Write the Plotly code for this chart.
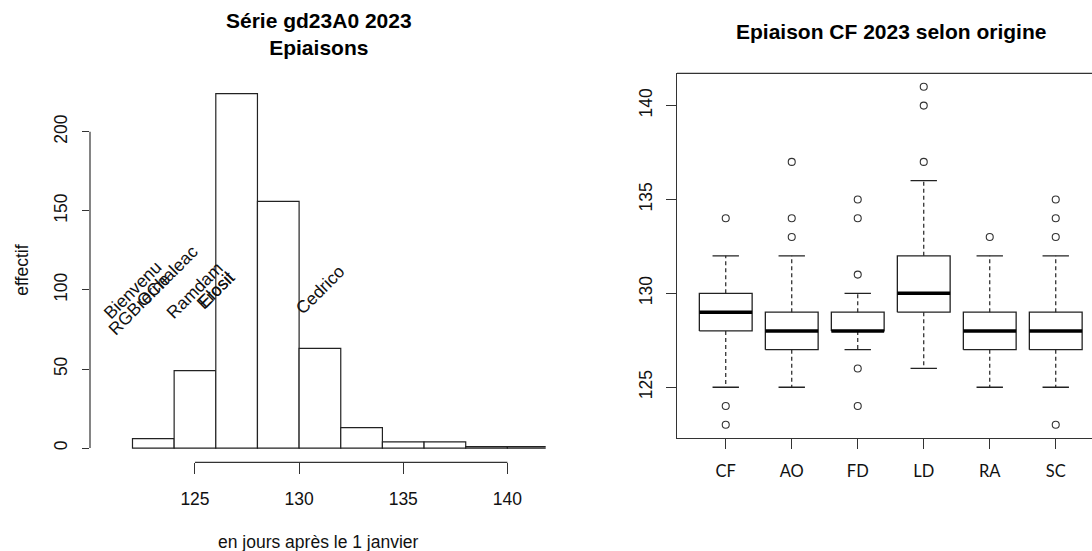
import plotly.graph_objects as go

W, H = 1092, 551

# ---------------- data: histogram (left) ----------------
bin_edges = [122, 124, 126, 128, 130, 132, 134, 136, 138, 140, 142]
counts = [6, 49, 224, 156, 63, 13, 4, 4, 1, 1]
hist_xticks = [125, 130, 135, 140]
hist_yticks = [0, 50, 100, 150, 200]

label_names = ["Bienvenu", "RGBreChaleac", "Orne", "Ramdam", "Elosil", "Erosit", "Cedrico"]
label_x = [122, 123, 123, 125, 126, 126, 131]
label_y = [100, 100, 100, 100, 100, 100, 100]

# ---------------- data: boxplot (right) ----------------
groups = ["CF", "AO", "FD", "LD", "RA", "SC"]
q1 = [128, 127, 128, 129, 127, 127]
medians = [129, 128, 128, 130, 128, 128]
q3 = [130, 129, 129, 132, 129, 129]
whisk_lo = [125, 125, 127, 126, 125, 125]
whisk_hi = [132, 132, 130, 136, 132, 132]
outliers = [[134, 124, 123], [137, 134, 133], [135, 134, 131, 126, 124],
            [141, 140, 137], [133], [135, 134, 133, 123]]
box_yticks = [125, 130, 135, 140]

FONT = "Liberation Sans, Arial, sans-serif"
LINE = "#222222"


def px_x(p):
    return p / W


def px_y(p):
    return 1 - p / H


fig = go.Figure()

# histogram bars
centers = [(a + b) / 2 for a, b in zip(bin_edges[:-1], bin_edges[1:])]
widths = [b - a for a, b in zip(bin_edges[:-1], bin_edges[1:])]
fig.add_trace(go.Bar(
    x=centers, y=counts, width=widths,
    marker=dict(color="white", line=dict(color=LINE, width=1.2)),
    xaxis="x", yaxis="y", showlegend=False, hoverinfo="skip"))

# boxplot built from the statistics
pos = list(range(1, len(groups) + 1))
bw = 0.4   # half box width
cw = 0.2   # half cap width

bx, by = [], []
for p, a, b in zip(pos, q1, q3):
    bx += [p - bw, p + bw, p + bw, p - bw, p - bw, None]
    by += [a, a, b, b, a, None]
fig.add_trace(go.Scatter(x=bx, y=by, mode="lines", line=dict(color=LINE, width=1.3),
                         xaxis="x2", yaxis="y2", showlegend=False, hoverinfo="skip"))

wx, wy = [], []
for p, a, b, lo, hi in zip(pos, q1, q3, whisk_lo, whisk_hi):
    wx += [p, p, None, p, p, None]
    wy += [b, hi, None, a, lo, None]
fig.add_trace(go.Scatter(x=wx, y=wy, mode="lines", line=dict(color=LINE, width=1.2, dash="4px,3px"),
                         xaxis="x2", yaxis="y2", showlegend=False, hoverinfo="skip"))

cx, cy = [], []
for p, lo, hi in zip(pos, whisk_lo, whisk_hi):
    cx += [p - cw, p + cw, None, p - cw, p + cw, None]
    cy += [hi, hi, None, lo, lo, None]
fig.add_trace(go.Scatter(x=cx, y=cy, mode="lines", line=dict(color=LINE, width=1.3),
                         xaxis="x2", yaxis="y2", showlegend=False, hoverinfo="skip"))

mx, my = [], []
for p, m in zip(pos, medians):
    mx += [p - bw, p + bw, None]
    my += [m, m, None]
fig.add_trace(go.Scatter(x=mx, y=my, mode="lines", line=dict(color="black", width=3.5),
                         xaxis="x2", yaxis="y2", showlegend=False, hoverinfo="skip"))

ox, oy = [], []
for p, outs in zip(pos, outliers):
    for v in outs:
        ox.append(p)
        oy.append(v)
fig.add_trace(go.Scatter(x=ox, y=oy, mode="markers",
                         marker=dict(symbol="circle-open", size=7, color="#333333", line=dict(width=1.1)),
                         xaxis="x2", yaxis="y2", showlegend=False, hoverinfo="skip"))

tickfont = dict(family=FONT, size=17.5, color="#111111")

fig.update_layout(
    width=W, height=H,
    margin=dict(l=0, r=0, t=0, b=0),
    paper_bgcolor="white", plot_bgcolor="rgba(0,0,0,0)",
    showlegend=False,
    xaxis=dict(domain=[px_x(90), px_x(545.7)], range=[119.96, 141.84], anchor="y",
               tickvals=hist_xticks, ticks="outside", ticklen=11, tickcolor="#333333",
               tickwidth=1, showline=False, showgrid=False, zeroline=False,
               tickfont=tickfont, ticklabelstandoff=10),
    yaxis=dict(domain=[px_y(462.3), px_y(79.5)], range=[-8.96, 232.96], anchor="x",
               tickvals=hist_yticks, ticks="outside", ticklen=7, tickcolor="#333333",
               tickwidth=1, showline=False, showgrid=False, zeroline=False,
               tickangle=-90, tickfont=tickfont, ticklabelstandoff=8),
    xaxis2=dict(domain=[px_x(676.9), 1.0], range=[0.26, 0.26 + (W - 676.9) / 66.0], anchor="y2",
                tickvals=pos, ticktext=groups, ticks="outside", ticklen=10, tickcolor="#333333",
                tickwidth=1, showline=True, linecolor="#333333", linewidth=1.2,
                showgrid=False, zeroline=False,
                tickfont=dict(family="Lato, Carlito, sans-serif", size=16.5, color="#111111"),
                ticklabelstandoff=8),
    yaxis2=dict(domain=[px_y(438.3), px_y(73.3)], range=[122.28, 141.72], anchor="x2",
                tickvals=box_yticks, ticks="outside", ticklen=10, tickcolor="#333333",
                tickwidth=1, showline=True, linecolor="#333333", linewidth=1.2,
                showgrid=False, zeroline=False,
                tickangle=-90, tickfont=tickfont, ticklabelstandoff=7),
)

shapes = [
    dict(type="line", xref="x", yref="y domain", x0=hist_xticks[0], x1=hist_xticks[-1], y0=0, y1=0,
         line=dict(color="#333333", width=1.2)),
    dict(type="line", xref="x domain", yref="y", x0=0, x1=0, y0=hist_yticks[0], y1=hist_yticks[-1],
         line=dict(color="#333333", width=1.2)),
    dict(type="line", xref="x2 domain", yref="y2 domain", x0=0, x1=1, y0=1, y1=1,
         line=dict(color="#333333", width=1.2)),
]
fig.update_layout(shapes=shapes)

annotations = [
    dict(text="<b>Série gd23A0 2023</b><br><b>Epiaisons</b>", xref="paper", yref="paper",
         x=px_x(319), y=px_y(33.5), xanchor="center", yanchor="middle", showarrow=False,
         font=dict(family=FONT, size=21, color="black")),
    dict(text="<b>Epiaison CF 2023 selon origine</b>", xref="paper", yref="paper",
         x=px_x(890.5), y=px_y(31.7), xanchor="center", yanchor="middle", showarrow=False,
         font=dict(family=FONT, size=21, color="black")),
    dict(text="effectif", xref="paper", yref="paper", x=px_x(21.7), y=px_y(270),
         xanchor="center", yanchor="middle", textangle=-90, showarrow=False,
         font=dict(family=FONT, size=17.5, color="#111111")),
    dict(text="en jours après le 1 janvier", xref="paper", yref="paper", x=px_x(318), y=px_y(541.5),
         xanchor="center", yanchor="middle", showarrow=False,
         font=dict(family=FONT, size=17.5, color="#111111")),
]
for name, lx, ly in zip(label_names, label_x, label_y):
    annotations.append(dict(text=name, xref="x", yref="y", x=lx, y=ly, xanchor="center",
                            yanchor="middle", textangle=-45, showarrow=False,
                            font=dict(family=FONT, size=17.5, color="#111111")))
fig.update_layout(annotations=annotations)

fig.write_html("out.html")
